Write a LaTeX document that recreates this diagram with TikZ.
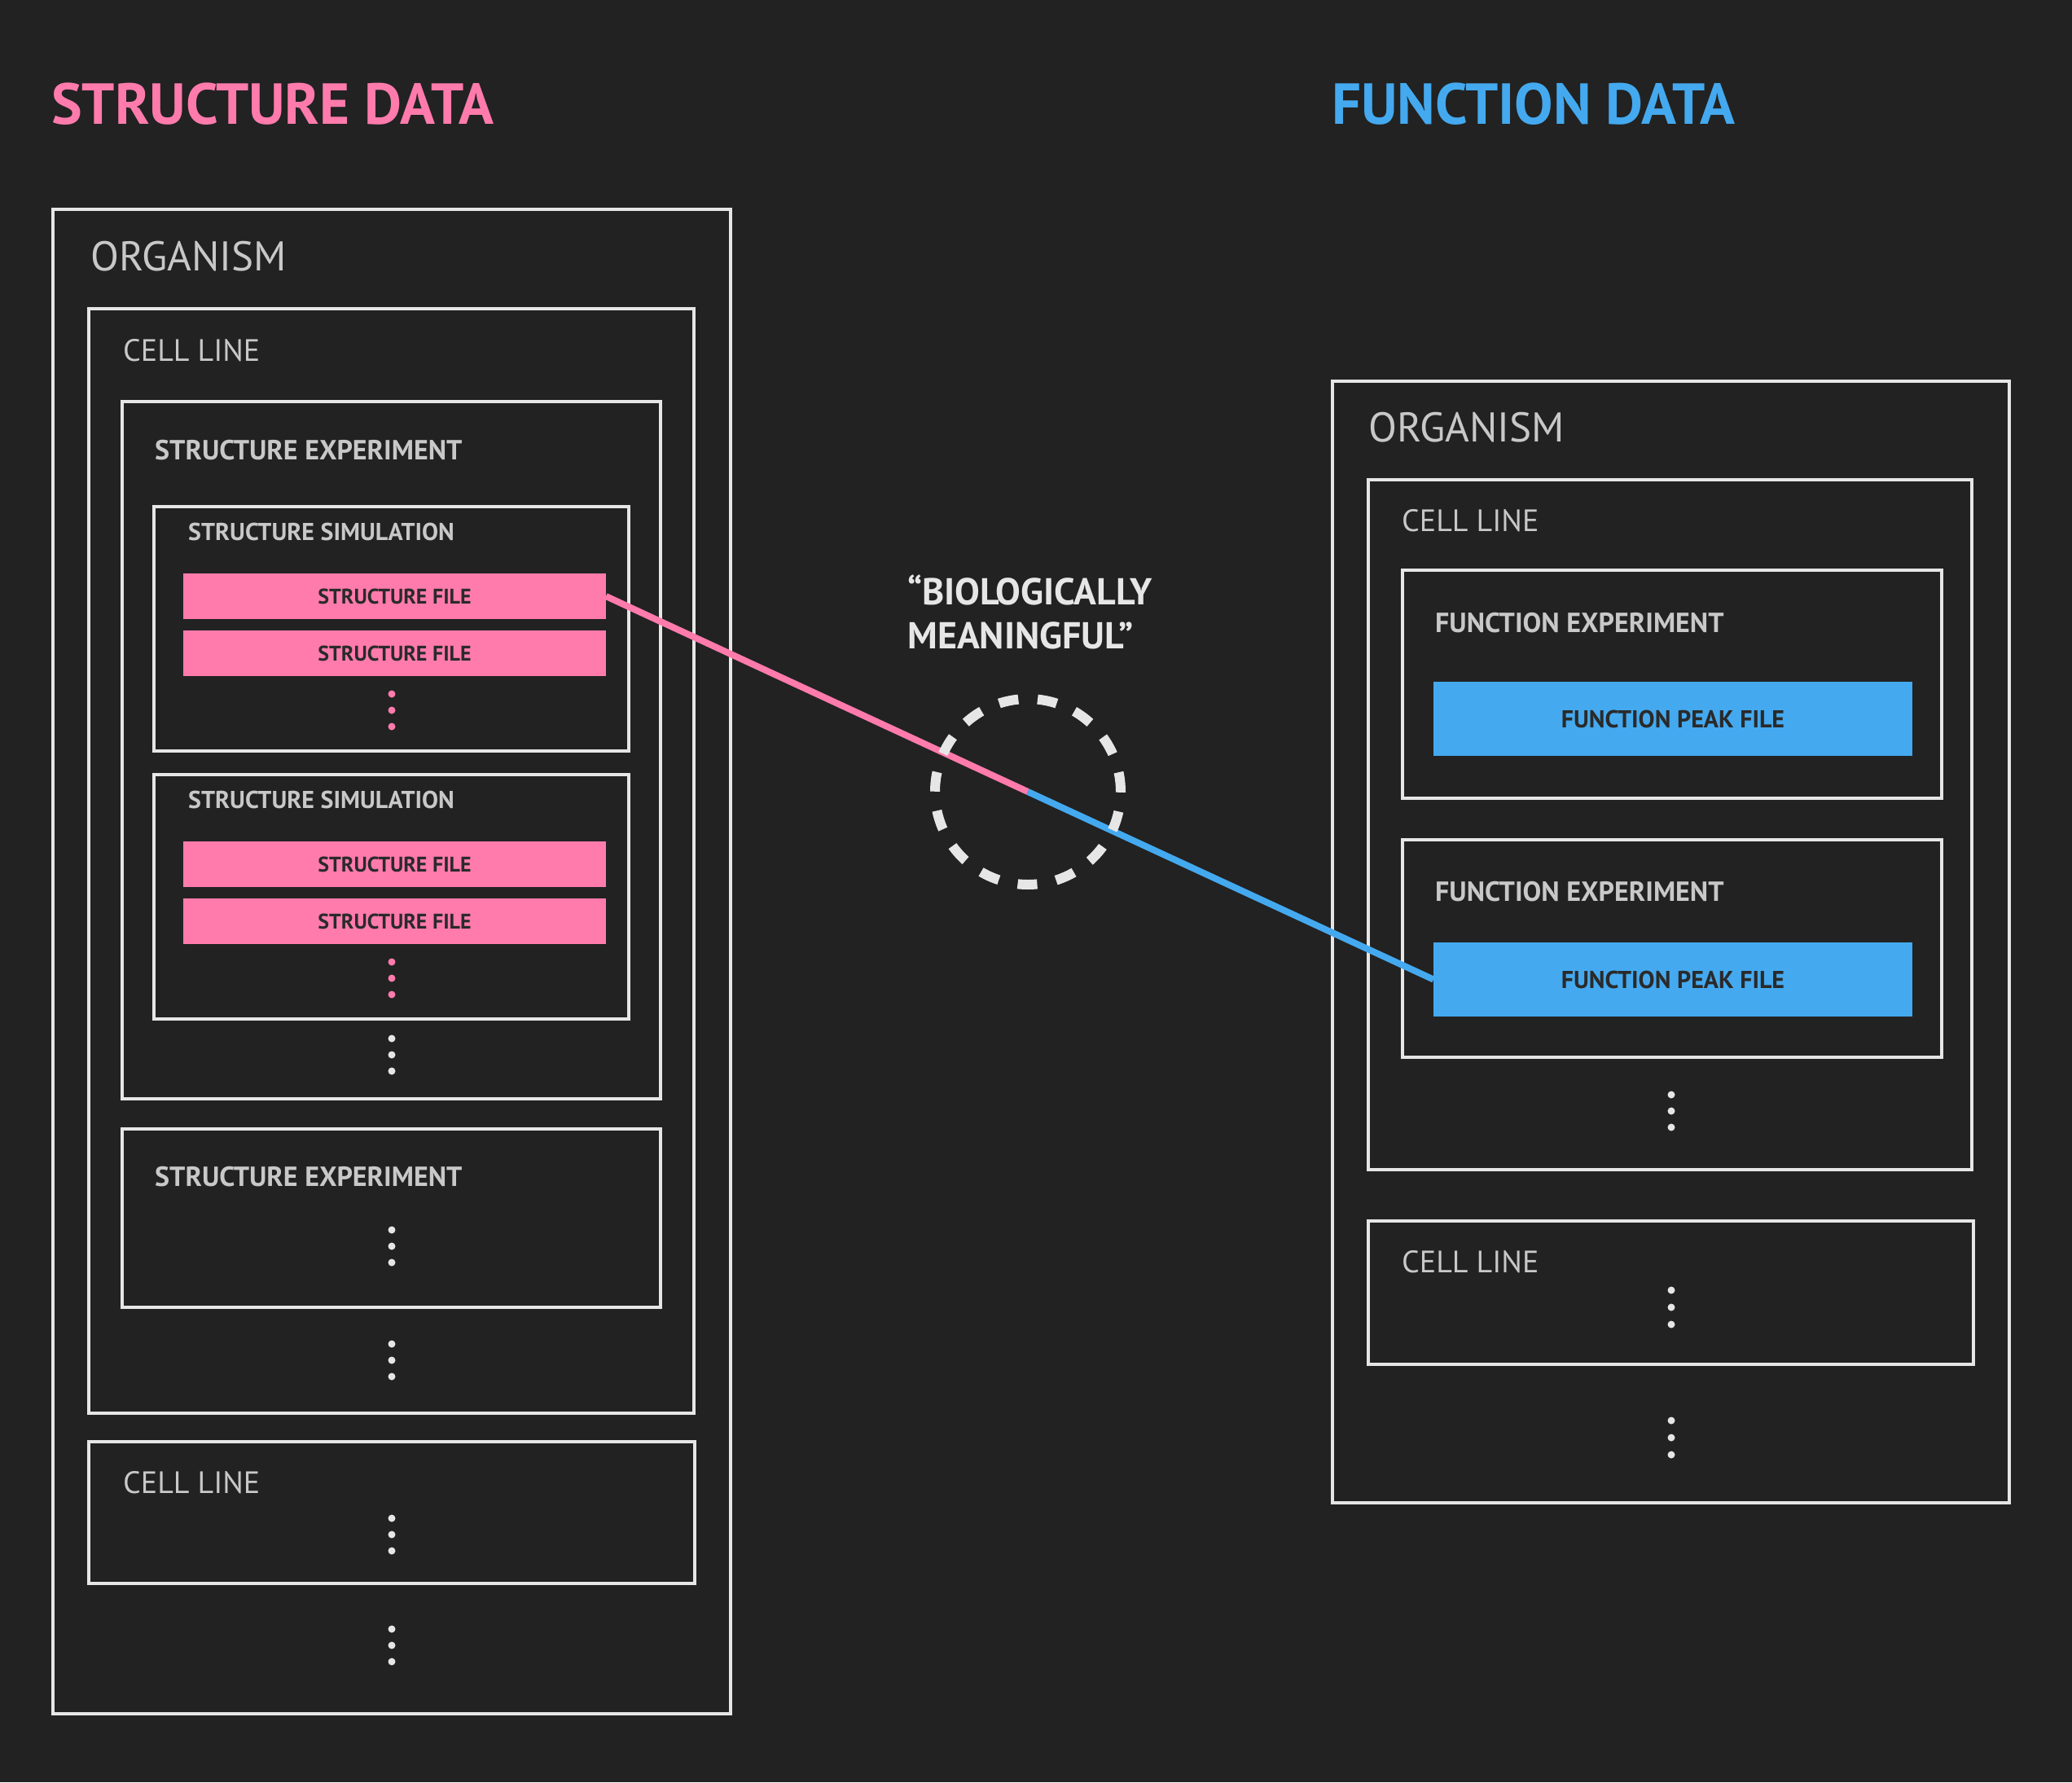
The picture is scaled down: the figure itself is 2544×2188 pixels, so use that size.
\documentclass[tikz,border=0pt]{standalone}
\usepackage{fontspec}
\setmainfont{PT Sans}
\usepackage{xcolor}
\definecolor{bgcol}{HTML}{222222}
\definecolor{framecol}{HTML}{E6E6E6}
\definecolor{labelcol}{HTML}{C8C8C8}
\definecolor{strpink}{HTML}{FF7BAC}
\definecolor{funblue}{HTML}{44A9EF}
\definecolor{filetext}{HTML}{2A2A2A}
\newcommand\fsz[1]{\fontsize{#1}{#1}\selectfont}
\begin{document}
\begin{tikzpicture}[x=1pt,y=-1pt]
  \tikzstyle{frame node}=[rectangle,draw=framecol,line width=4pt,anchor=north west,inner sep=0,outer sep=0]
  \tikzstyle{file node}=[rectangle,anchor=north west,inner sep=0,outer sep=0,text=filetext]
  \tikzstyle{label node}=[anchor=base west,inner sep=0,text=labelcol]
  \tikzstyle{dot node}=[circle,fill=framecol,minimum size=9pt,inner sep=0]
  \fill[bgcol] (0,0) rectangle (2544,2188);
  \useasboundingbox (0,0) rectangle (2544,2188);
  % structure side
  \node[label node,text=strpink,font=\fsz{71}\bfseries](stitle) at (63,152){STRUCTURE DATA};
  \node[frame node,minimum width=832pt,minimum height=1847pt](sorg) at (65,257){};
  \node[label node,font=\fsz{51}](sorgl) at (111,332){ORGANISM};
  \node[frame node,minimum width=743pt,minimum height=1356pt](scell1) at (109,379){};
  \node[label node,font=\fsz{38}](scell1l) at (151,443){CELL LINE};
  \node[frame node,minimum width=661pt,minimum height=856pt](sexp1) at (150,493){};
  \node[label node,font=\fsz{34}\bfseries](sexp1l) at (190,564){STRUCTURE EXPERIMENT};
  \node[frame node,minimum width=583pt,minimum height=300pt](ssim1) at (189,622){};
  \node[label node,font=\fsz{30}\bfseries](ssim1l) at (231,663){STRUCTURE SIMULATION};
  \node[file node,fill=strpink,minimum width=519pt,minimum height=56pt,font=\fsz{26}\bfseries](sf1) at (225,704){STRUCTURE FILE};
  \node[file node,fill=strpink,minimum width=519pt,minimum height=56pt,font=\fsz{26}\bfseries](sf2) at (225,774){STRUCTURE FILE};
  \node[frame node,minimum width=583pt,minimum height=300pt](ssim2) at (189,951){};
  \node[label node,font=\fsz{30}\bfseries](ssim2l) at (231,992){STRUCTURE SIMULATION};
  \node[file node,fill=strpink,minimum width=519pt,minimum height=56pt,font=\fsz{26}\bfseries](sf3) at (225,1033){STRUCTURE FILE};
  \node[file node,fill=strpink,minimum width=519pt,minimum height=56pt,font=\fsz{26}\bfseries](sf4) at (225,1103){STRUCTURE FILE};
  \node[frame node,minimum width=661pt,minimum height=219pt](sexp2) at (150,1386){};
  \node[label node,font=\fsz{34}\bfseries](sexp2l) at (190,1456){STRUCTURE EXPERIMENT};
  \node[frame node,minimum width=744pt,minimum height=174pt](scell2) at (109,1770){};
  \node[label node,font=\fsz{38}](scell2l) at (151,1833){CELL LINE};
  \foreach \y in {852,872,892,1181,1201,1221}
    \node[dot node,fill=strpink](pd\y) at (481,\y){};
  \foreach \y in {1275,1295,1315,1510,1530,1550,1650,1670,1690,1864,1884,1904,2000,2020,2040}
    \node[dot node](sd\y) at (481,\y){};
  % function side
  \node[label node,text=funblue,font=\fsz{71}\bfseries](ftitle) at (1635,152){FUNCTION DATA};
  \node[frame node,minimum width=831pt,minimum height=1377pt](forg) at (1636,468){};
  \node[label node,font=\fsz{51}](forgl) at (1680,542){ORGANISM};
  \node[frame node,minimum width=741pt,minimum height=847pt](fcell1) at (1680,589){};
  \node[label node,font=\fsz{38}](fcell1l) at (1721,652){CELL LINE};
  \node[frame node,minimum width=662pt,minimum height=280pt](fexp1) at (1722,700){};
  \node[label node,font=\fsz{34}\bfseries](fexp1l) at (1762,776){FUNCTION EXPERIMENT};
  \node[file node,fill=funblue,minimum width=588pt,minimum height=91pt,font=\fsz{30}\bfseries](pf1) at (1760,837){FUNCTION PEAK FILE};
  \node[frame node,minimum width=662pt,minimum height=267pt](fexp2) at (1722,1031){};
  \node[label node,font=\fsz{34}\bfseries](fexp2l) at (1762,1106){FUNCTION EXPERIMENT};
  \node[file node,fill=funblue,minimum width=588pt,minimum height=91pt,font=\fsz{30}\bfseries](pf2) at (1760,1157){FUNCTION PEAK FILE};
  \node[frame node,minimum width=743pt,minimum height=176pt](fcell2) at (1680,1499){};
  \node[label node,font=\fsz{38}](fcell2l) at (1721,1562){CELL LINE};
  \foreach \y in {1344,1364,1384,1584,1605,1626,1744,1765,1786}
    \node[dot node](fd\y) at (2052,\y){};
  % link
  \coordinate (mid) at (1262,972);
  \draw[strpink,line width=8pt] (sf1.east) -- (mid);
  \draw[funblue,line width=8pt] (mid) -- (pf2.west);
  \node[circle,draw=framecol,line width=12pt,dash pattern=on 24pt off 23.7pt,minimum size=228pt,inner sep=0,outer sep=0](ring) at (mid){};
  \node[anchor=north west,inner sep=0,align=left,text=framecol,font=\fontsize{46}{54}\selectfont\bfseries](bio) at (1114,706){“BIOLOGICALLY\\MEANINGFUL”};
\end{tikzpicture}
\end{document}
